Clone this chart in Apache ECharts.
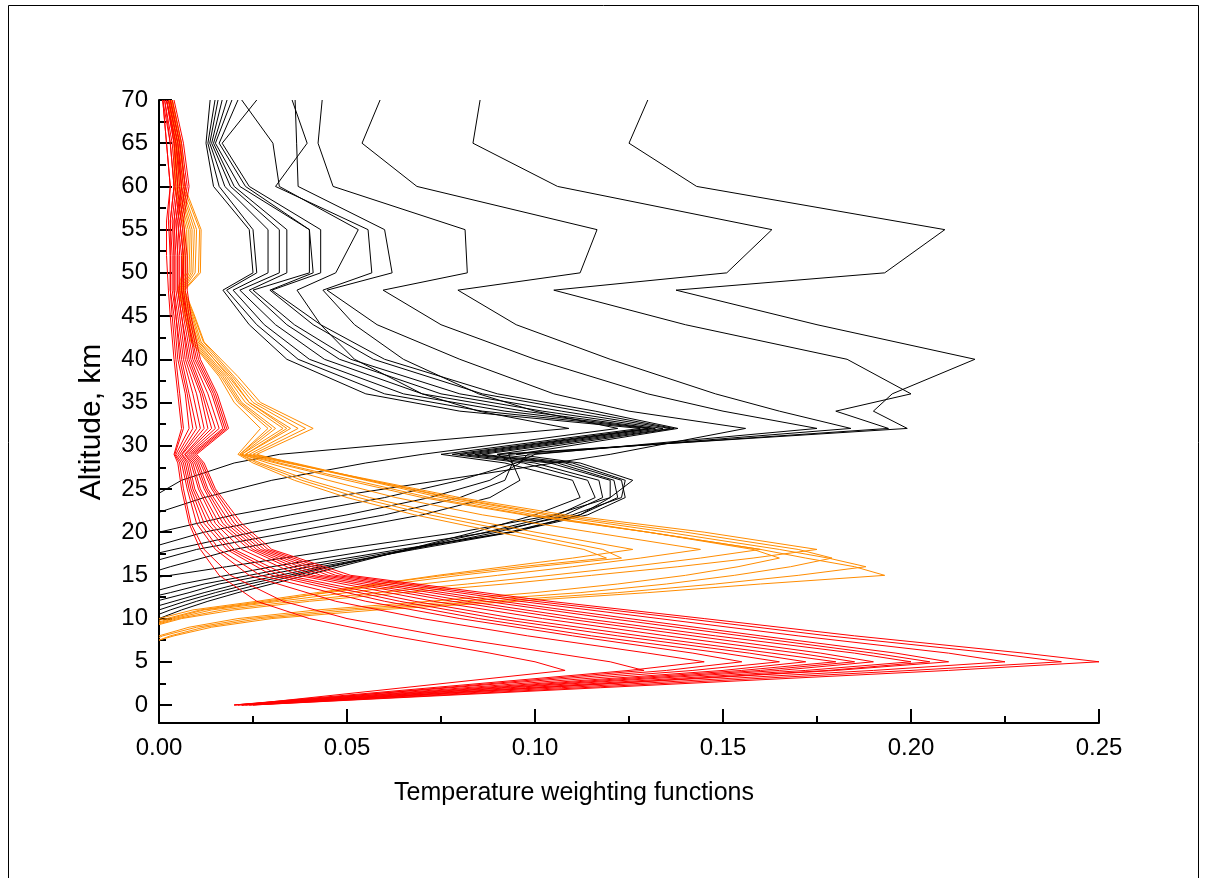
<!DOCTYPE html>
<html><head><meta charset="utf-8">
<script src="https://cdn.jsdelivr.net/npm/echarts@6/dist/echarts.min.js"></script>
<style>html,body{margin:0;padding:0;background:#fff}#c{width:1205px;height:878px}</style>
</head><body><div id="c"></div>
<script>
// ---------- axis ticks ----------
const Y_TICKS = [0, 5, 10, 15, 20, 25, 30, 35, 40, 45, 50, 55, 60, 65, 70];
const Y_MINOR = [2.5, 7.5, 12.5, 17.5, 22.5, 27.5, 32.5, 37.5, 42.5, 47.5, 52.5, 57.5, 62.5, 67.5];
const X_TITLE = 'Temperature weighting functions';
const Y_TITLE = 'Altitude, km';

// ---------- red family (altitude grid, km) ----------
const RED_ALT = [0, 4, 5, 6, 8, 10, 12, 15, 18, 21, 25, 28, 29, 32, 36, 40, 45, 48, 52, 56, 60, 65, 70];
const RED_1  = [0.022, 0.108, 0.1, 0.088, 0.062, 0.04, 0.026, 0.016, 0.011, 0.008, 0.006, 0.005, 0.004, 0.006, 0.005, 0.004, 0.003, 0.0025, 0.002, 0.002, 0.003, 0.002, 0.001];
const RED_2  = [0.022, 0.129, 0.12, 0.105, 0.075, 0.05, 0.033, 0.019, 0.012, 0.0085, 0.0065, 0.0055, 0.0042, 0.0065, 0.0055, 0.0045, 0.0035, 0.003, 0.003, 0.0025, 0.003, 0.002, 0.001];
const RED_3  = [0.02, 0.125, 0.145, 0.13, 0.098, 0.07, 0.047, 0.024, 0.015, 0.01, 0.0075, 0.006, 0.0045, 0.008, 0.007, 0.005, 0.004, 0.003, 0.003, 0.003, 0.004, 0.003, 0.001];
const RED_4  = [0.02, 0.135, 0.155, 0.142, 0.11, 0.08, 0.055, 0.027, 0.016, 0.011, 0.008, 0.0065, 0.005, 0.009, 0.0075, 0.0055, 0.0045, 0.0035, 0.0035, 0.003, 0.004, 0.003, 0.0015];
const RED_5  = [0.021, 0.142, 0.165, 0.15, 0.115, 0.085, 0.06, 0.03, 0.018, 0.012, 0.0085, 0.007, 0.0055, 0.01, 0.008, 0.006, 0.0045, 0.004, 0.004, 0.0035, 0.0045, 0.0035, 0.0015];
const RED_6  = [0.02, 0.15, 0.172, 0.157, 0.122, 0.09, 0.064, 0.032, 0.019, 0.013, 0.009, 0.0075, 0.006, 0.011, 0.009, 0.0065, 0.005, 0.004, 0.004, 0.004, 0.005, 0.004, 0.002];
const RED_7  = [0.021, 0.155, 0.18, 0.163, 0.128, 0.095, 0.068, 0.034, 0.02, 0.014, 0.0095, 0.008, 0.0062, 0.012, 0.01, 0.007, 0.0055, 0.0045, 0.0045, 0.004, 0.005, 0.004, 0.002];
const RED_8  = [0.022, 0.16, 0.185, 0.17, 0.135, 0.102, 0.073, 0.037, 0.022, 0.015, 0.0105, 0.0085, 0.0068, 0.013, 0.011, 0.0075, 0.006, 0.005, 0.005, 0.0045, 0.0055, 0.0045, 0.002];
const RED_9  = [0.022, 0.165, 0.19, 0.176, 0.142, 0.108, 0.078, 0.039, 0.024, 0.016, 0.011, 0.009, 0.007, 0.014, 0.0115, 0.008, 0.006, 0.005, 0.005, 0.0045, 0.006, 0.0045, 0.002];
const RED_10 = [0.023, 0.172, 0.2, 0.185, 0.148, 0.113, 0.082, 0.041, 0.025, 0.017, 0.012, 0.0095, 0.0075, 0.015, 0.012, 0.0085, 0.0065, 0.0055, 0.0055, 0.005, 0.006, 0.005, 0.0025];
const RED_11 = [0.023, 0.178, 0.205, 0.19, 0.155, 0.12, 0.087, 0.043, 0.026, 0.018, 0.0125, 0.01, 0.008, 0.016, 0.013, 0.009, 0.007, 0.006, 0.006, 0.005, 0.0065, 0.005, 0.0025];
const RED_12 = [0.024, 0.18, 0.21, 0.196, 0.16, 0.125, 0.091, 0.045, 0.027, 0.019, 0.013, 0.0105, 0.0085, 0.017, 0.014, 0.0095, 0.0075, 0.006, 0.0065, 0.0055, 0.007, 0.0055, 0.003];
const RED_13 = [0.024, 0.19, 0.225, 0.21, 0.17, 0.133, 0.096, 0.047, 0.028, 0.02, 0.014, 0.011, 0.009, 0.0175, 0.0145, 0.01, 0.0075, 0.0065, 0.0065, 0.0055, 0.007, 0.0055, 0.003];
const RED_14 = [0.025, 0.2, 0.24, 0.222, 0.178, 0.14, 0.1, 0.049, 0.029, 0.021, 0.0145, 0.0115, 0.0095, 0.018, 0.015, 0.0105, 0.008, 0.007, 0.007, 0.006, 0.0075, 0.006, 0.0035];
const RED_15 = [0.025, 0.21, 0.25, 0.23, 0.185, 0.145, 0.104, 0.051, 0.03, 0.022, 0.015, 0.012, 0.01, 0.0185, 0.0155, 0.011, 0.0085, 0.0075, 0.0075, 0.0065, 0.008, 0.0065, 0.004];

// ---------- orange family ----------
const ORG_ALT = [8, 9, 10, 11, 12, 13, 14, 15, 16, 17, 18, 20, 22, 24, 26, 28, 29, 32, 35, 38, 42, 45, 48, 50, 55, 60, 65, 70];
const ORG_START = [7.5, 7.5, 7.8, 8, 9.3, 9.4, 9.5, 9.6, 9.8, 10];
const ORG_1  = [0.004, 0.014, 0.03, 0.058, 0.095, 0.13, 0.16, 0.193, 0.185, 0.172, 0.16, 0.13, 0.1, 0.075, 0.055, 0.035, 0.026, 0.041, 0.027, 0.021, 0.012, 0.0095, 0.0068, 0.011, 0.0112, 0.0068, 0.006, 0.0036];
const ORG_2  = [0.003, 0.012, 0.027, 0.052, 0.088, 0.122, 0.148, 0.17, 0.188, 0.178, 0.165, 0.135, 0.103, 0.077, 0.056, 0.036, 0.025, 0.039, 0.026, 0.02, 0.0118, 0.0093, 0.0066, 0.0105, 0.0108, 0.0064, 0.0058, 0.0035];
const ORG_3  = [0.001, 0.01, 0.024, 0.047, 0.08, 0.112, 0.135, 0.153, 0.168, 0.179, 0.17, 0.14, 0.105, 0.078, 0.056, 0.035, 0.024, 0.037, 0.025, 0.0195, 0.0112, 0.009, 0.0064, 0.0096, 0.01, 0.006, 0.0055, 0.0033];
const ORG_4  = [null, 0.008, 0.021, 0.042, 0.072, 0.1, 0.122, 0.14, 0.154, 0.165, 0.158, 0.13, 0.098, 0.072, 0.052, 0.032, 0.023, 0.034, 0.024, 0.0185, 0.0108, 0.0087, 0.0062, 0.009, 0.0094, 0.0057, 0.0053, 0.0032];
const ORG_5  = [null, null, 0.006, 0.02, 0.04, 0.065, 0.092, 0.115, 0.138, 0.158, 0.175, 0.145, 0.108, 0.08, 0.057, 0.034, 0.023, 0.035, 0.024, 0.019, 0.0104, 0.0083, 0.006, 0.0085, 0.0088, 0.0054, 0.005, 0.003];
const ORG_6  = [null, null, 0.005, 0.017, 0.036, 0.058, 0.082, 0.104, 0.125, 0.144, 0.16, 0.13, 0.097, 0.07, 0.05, 0.031, 0.022, 0.033, 0.023, 0.018, 0.01, 0.008, 0.0058, 0.008, 0.0083, 0.0051, 0.0048, 0.0029];
const ORG_7  = [null, null, 0.004, 0.014, 0.032, 0.05, 0.07, 0.09, 0.11, 0.128, 0.144, 0.115, 0.086, 0.063, 0.045, 0.029, 0.022, 0.031, 0.022, 0.0175, 0.0096, 0.0077, 0.0056, 0.0075, 0.0078, 0.0048, 0.0046, 0.0028];
const ORG_8  = [null, null, 0.003, 0.012, 0.03, 0.044, 0.058, 0.074, 0.092, 0.11, 0.126, 0.1, 0.076, 0.056, 0.04, 0.027, 0.0215, 0.03, 0.0215, 0.017, 0.0092, 0.0074, 0.0054, 0.007, 0.0073, 0.0045, 0.0044, 0.0027];
const ORG_9  = [null, null, 0.002, 0.011, 0.028, 0.045, 0.062, 0.08, 0.1, 0.123, 0.118, 0.095, 0.072, 0.053, 0.038, 0.026, 0.0215, 0.029, 0.021, 0.0165, 0.0088, 0.0071, 0.0052, 0.0066, 0.0068, 0.0042, 0.0042, 0.0026];
const ORG_10 = [null, null, null, 0.009, 0.026, 0.042, 0.058, 0.076, 0.096, 0.119, 0.113, 0.09, 0.068, 0.05, 0.036, 0.025, 0.021, 0.027, 0.02, 0.016, 0.0085, 0.0068, 0.005, 0.0062, 0.0064, 0.004, 0.004, 0.0025];

// ---------- black family ----------
const BLK_ALT = [11, 12, 13, 14, 16, 18, 20, 22, 24, 26, 28, 29, 32, 34, 36, 40, 44, 48, 50, 55, 60, 65, 70];
const BLK_START = [10, 10.5, 11, 11.5, 12.1, 12.7, 13.3, 14.8, 24.5, 22.3, 20, 18.5, 17.6, 16.8, 15.6];
const BLK_1  = [0.006, 0.013, 0.021, 0.03, 0.048, 0.066, 0.084, 0.1, 0.112, 0.11, 0.092, 0.075, 0.128, 0.08, 0.055, 0.034, 0.024, 0.017, 0.025, 0.024, 0.0145, 0.0125, 0.0136];
const BLK_2  = [0.003, 0.01, 0.018, 0.027, 0.046, 0.066, 0.087, 0.106, 0.116, 0.114, 0.097, 0.078, 0.13, 0.086, 0.06, 0.037, 0.026, 0.018, 0.026, 0.025, 0.016, 0.013, 0.0149];
const BLK_3  = [null, 0.007, 0.015, 0.024, 0.045, 0.067, 0.09, 0.108, 0.118, 0.117, 0.1, 0.08, 0.131, 0.092, 0.065, 0.04, 0.028, 0.0197, 0.029, 0.029, 0.0175, 0.0135, 0.0157];
const BLK_4  = [null, 0.004, 0.012, 0.021, 0.043, 0.068, 0.094, 0.112, 0.12, 0.12, 0.104, 0.082, 0.132, 0.097, 0.07, 0.044, 0.031, 0.0215, 0.032, 0.032, 0.019, 0.014, 0.0168];
const BLK_5  = [null, null, 0.008, 0.016, 0.04, 0.066, 0.093, 0.112, 0.122, 0.121, 0.106, 0.084, 0.134, 0.102, 0.075, 0.048, 0.034, 0.024, 0.034, 0.034, 0.02, 0.0145, 0.0181];
const BLK_6  = [null, null, 0.003, 0.012, 0.036, 0.064, 0.094, 0.114, 0.124, 0.123, 0.108, 0.086, 0.136, 0.107, 0.08, 0.051, 0.036, 0.025, 0.04, 0.04, 0.0215, 0.015, 0.0194];
const BLK_7  = [null, null, null, 0.006, 0.03, 0.058, 0.088, 0.11, 0.123, 0.124, 0.11, 0.09, 0.137, 0.112, 0.086, 0.057, 0.041, 0.0295, 0.041, 0.04, 0.023, 0.016, 0.021];
const BLK_8  = [null, null, null, null, 0.018, 0.048, 0.08, 0.105, 0.12, 0.126, 0.112, 0.095, 0.138, 0.116, 0.09, 0.06, 0.043, 0.03, 0.043, 0.043, 0.024, 0.0168, 0.026];
const BLK_9  = [null, null, null, null, null, null, null, null, null, 0.006, 0.02, 0.032, 0.109, 0.085, 0.07, 0.052, 0.043, 0.0367, 0.047, 0.053, 0.032, 0.0303, 0.022];
const BLK_10 = [null, null, null, null, null, null, null, null, 0.012, 0.03, 0.055, 0.07, 0.122, 0.1, 0.085, 0.065, 0.052, 0.0436, 0.0566, 0.0556, 0.031, 0.0394, 0.0354];
const BLK_11 = [null, null, null, null, null, null, null, 0.02, 0.045, 0.075, 0.105, 0.12, 0.156, 0.125, 0.105, 0.08, 0.058, 0.0447, 0.062, 0.06, 0.037, 0.0366, 0.0362];
const BLK_12 = [null, null, null, null, null, null, 0.012, 0.035, 0.06, 0.08, 0.095, 0.1, 0.175, 0.15, 0.13, 0.1, 0.075, 0.0596, 0.082, 0.0814, 0.0463, 0.0423, 0.0434];
const BLK_13 = [null, null, null, null, null, 0.004, 0.025, 0.05, 0.072, 0.088, 0.096, 0.098, 0.184, 0.165, 0.148, 0.12, 0.095, 0.0795, 0.112, 0.1165, 0.0686, 0.054, 0.0588];
const BLK_14 = [null, null, null, null, null, 0.01, 0.035, 0.06, 0.08, 0.092, 0.094, 0.093, 0.194, 0.18, 0.2, 0.183, 0.14, 0.105, 0.151, 0.163, 0.106, 0.0835, 0.0854];
const BLK_15 = [null, null, null, null, 0.003, 0.02, 0.045, 0.07, 0.088, 0.096, 0.094, 0.09, 0.199, 0.19, 0.195, 0.217, 0.175, 0.1375, 0.193, 0.209, 0.143, 0.125, 0.13];

const RED_LINES = [RED_1, RED_2, RED_3, RED_4, RED_5, RED_6, RED_7, RED_8, RED_9, RED_10, RED_11, RED_12, RED_13, RED_14, RED_15];
const ORG_LINES = [ORG_1, ORG_2, ORG_3, ORG_4, ORG_5, ORG_6, ORG_7, ORG_8, ORG_9, ORG_10];
const BLK_LINES = [BLK_1, BLK_2, BLK_3, BLK_4, BLK_5, BLK_6, BLK_7, BLK_8, BLK_9, BLK_10, BLK_11, BLK_12, BLK_13, BLK_14, BLK_15];

function pts(alts, vals, start) {
  const out = [];
  if (start != null) out.push([0, start]);
  for (let i = 0; i < alts.length; i++) {
    if (vals[i] == null) continue;
    if (start != null && alts[i] <= start) continue;
    out.push([vals[i], alts[i]]);
  }
  return out;
}
function mk(data, color, z) {
  return { type: 'line', data: data, showSymbol: false, symbol: 'none', silent: true,
    lineStyle: { width: 1, color: color }, itemStyle: { color: color }, z: z, animation: false, clip: true };
}
const series = [];
BLK_LINES.forEach((v, i) => series.push(mk(pts(BLK_ALT, v, BLK_START[i]), '#000000', 2)));
ORG_LINES.forEach((v, i) => series.push(mk(pts(ORG_ALT, v, ORG_START[i]), '#FF8C00', 3)));
RED_LINES.forEach((v) => series.push(mk(pts(RED_ALT, v, null), '#FF0000', 4)));

const FONT = 'Liberation Sans, Arial, Helvetica, sans-serif';
const chart = echarts.init(document.getElementById('c'), null, { renderer: 'canvas' });
chart.setOption({
  backgroundColor: '#fff',
  animation: false,
  grid: { left: 159, right: 106, top: 100, bottom: 155, containLabel: false },
  xAxis: {
    type: 'value', min: 0, max: 0.25, interval: 0.05,
    axisLine: { show: true, onZero: false, lineStyle: { color: '#000', width: 2 } },
    axisTick: { show: true, inside: true, length: 14, lineStyle: { color: '#000', width: 2 } },
    minorTick: { show: true, splitNumber: 2, length: 7, lineStyle: { color: '#000', width: 2 } },
    splitLine: { show: false },
    axisLabel: { color: '#000', fontSize: 24, fontFamily: FONT, margin: 13,
      formatter: v => v.toFixed(2) }
  },
  yAxis: [{
    type: 'value', min: -2.083, max: 70,
    axisLine: { show: true, onZero: false, lineStyle: { color: '#000', width: 2 } },
    axisTick: { show: true, inside: true, length: 13, customValues: Y_TICKS, lineStyle: { color: '#000', width: 2 } },
    axisLabel: { show: true, color: '#000', fontSize: 24, fontFamily: FONT, margin: 11, customValues: Y_TICKS },
    splitLine: { show: false }
  }, {
    type: 'value', min: -2.083, max: 70, position: 'left',
    axisLine: { show: false },
    axisTick: { show: true, inside: true, length: 7, customValues: Y_MINOR, lineStyle: { color: '#000', width: 2 } },
    axisLabel: { show: false },
    splitLine: { show: false }
  }],
  graphic: [
    { type: 'rect', silent: true, shape: { x: 8.5, y: 5.5, width: 1190, height: 900 },
      style: { fill: null, stroke: '#000', lineWidth: 1 } },
    { type: 'text', silent: true, x: 574, y: 793,
      style: { text: X_TITLE, fill: '#000', font: '25px ' + FONT, textAlign: 'center', textVerticalAlign: 'middle' } },
    { type: 'text', silent: true, x: 92, y: 422, rotation: Math.PI / 2,
      style: { text: Y_TITLE, fill: '#000', font: '30px ' + FONT, textAlign: 'center', textVerticalAlign: 'middle' } }
  ],
  series: series
});
</script>
</body></html>
